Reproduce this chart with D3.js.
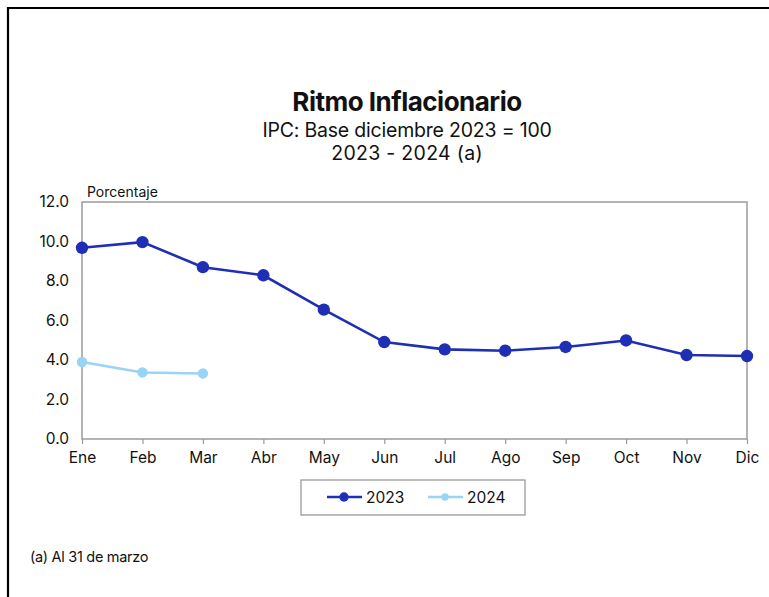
<!DOCTYPE html>
<html>
<head>
<meta charset="utf-8">
<script src="https://cdn.jsdelivr.net/npm/d3@7"></script>
<style>
  body { margin: 0; background: #fff; }
  svg { display: block; font-family: "Inter", "Lato", sans-serif; }
</style>
</head>
<body>
<div id="chart"></div>
<script>
const months = ['Ene', 'Feb', 'Mar', 'Abr', 'May', 'Jun', 'Jul', 'Ago', 'Sep', 'Oct', 'Nov', 'Dic'];
const serie2023 = [9.68, 9.97, 8.70, 8.29, 6.55, 4.91, 4.54, 4.47, 4.66, 4.99, 4.25, 4.20];
const serie2024 = [3.90, 3.37, 3.32];
const yTicks = [0, 2, 4, 6, 8, 10, 12];

const width = 769, height = 597;
const plot = {left: 82, right: 747, top: 202, bottom: 439};

const svg = d3.select('#chart').append('svg')
  .attr('width', width)
  .attr('height', height);

// outer frame, only top and left edges show
svg.append('path')
  .attr('d', 'M8,597 V8 H769')
  .attr('fill', 'none')
  .attr('stroke', '#000')
  .attr('stroke-width', 2.2);

// titles
const titles = svg.append('g').attr('text-anchor', 'middle').attr('fill', '#111');
titles.append('text').attr('x', 407).attr('y', 111)
  .attr('font-size', 26).attr('font-weight', 700).attr('letter-spacing', -0.5)
  .text('Ritmo Inflacionario');
titles.append('text').attr('x', 407).attr('y', 137)
  .attr('font-size', 19.5).attr('letter-spacing', -0.2)
  .text('IPC: Base diciembre 2023 = 100');
titles.append('text').attr('x', 407).attr('y', 160)
  .attr('font-size', 19.5).attr('letter-spacing', 0.3)
  .text('2023 - 2024 (a)');

const x = d3.scalePoint().domain(months).range([plot.left, plot.right]);
const y = d3.scaleLinear().domain([0, 12]).range([plot.bottom, plot.top]);

// plot border
svg.append('rect')
  .attr('x', plot.left).attr('y', plot.top)
  .attr('width', plot.right - plot.left).attr('height', plot.bottom - plot.top)
  .attr('fill', 'none').attr('stroke', '#9a9a9a').attr('stroke-width', 1.5);

// x axis
const xAxis = svg.append('g')
  .attr('transform', `translate(0,${plot.bottom})`)
  .call(d3.axisBottom(x).tickSize(5).tickPadding(8));
xAxis.select('.domain').remove();
xAxis.selectAll('line').attr('stroke', '#9a9a9a').attr('stroke-width', 1.2);
xAxis.selectAll('text').attr('font-size', 15.5).attr('fill', '#111').attr('font-family', 'Inter, sans-serif');

// y axis
const yAxis = svg.append('g')
  .attr('transform', `translate(${plot.left},0)`)
  .call(d3.axisLeft(y).tickValues(yTicks).tickFormat(d3.format('.1f')).tickSize(0).tickPadding(13));
yAxis.select('.domain').remove();
yAxis.selectAll('text').attr('font-size', 15.5).attr('fill', '#111').attr('font-family', 'Inter, sans-serif');

svg.append('text').attr('x', 87).attr('y', 197)
  .attr('font-size', 14).attr('fill', '#111')
  .text('Porcentaje');

const line = d3.line().x((d, i) => x(months[i])).y(d => y(d));

const series = [
  {name: '2023', values: serie2023, color: '#1f2fb5', r: 6.2},
  {name: '2024', values: serie2024, color: '#99d3f5', r: 5.2}
];

series.forEach(s => {
  svg.append('path')
    .datum(s.values)
    .attr('d', line)
    .attr('fill', 'none')
    .attr('stroke', s.color)
    .attr('stroke-width', 2.6);
  svg.append('g').selectAll('circle')
    .data(s.values)
    .join('circle')
    .attr('cx', (d, i) => x(months[i]))
    .attr('cy', d => y(d))
    .attr('r', s.r)
    .attr('fill', s.color);
});

// legend
const legend = svg.append('g');
legend.append('rect')
  .attr('x', 301).attr('y', 480).attr('width', 224).attr('height', 35)
  .attr('fill', 'none').attr('stroke', '#9a9a9a').attr('stroke-width', 1.3);
const legendItems = [
  {s: series[0], x0: 327, tx: 366},
  {s: series[1], x0: 428, tx: 467}
];
legendItems.forEach(it => {
  legend.append('line')
    .attr('x1', it.x0).attr('x2', it.x0 + 35).attr('y1', 497).attr('y2', 497)
    .attr('stroke', it.s.color).attr('stroke-width', 2.6);
  legend.append('circle')
    .attr('cx', it.x0 + 17).attr('cy', 497).attr('r', it.s.r - 1.5)
    .attr('fill', it.s.color);
  legend.append('text')
    .attr('x', it.tx).attr('y', 503)
    .attr('font-size', 15.5).attr('fill', '#111')
    .text(it.s.name);
});

// footnote
svg.append('text').attr('x', 30).attr('y', 562)
  .attr('font-size', 14.5).attr('fill', '#111').attr('letter-spacing', -0.3)
  .text('(a) Al 31 de marzo');
</script>
</body>
</html>
